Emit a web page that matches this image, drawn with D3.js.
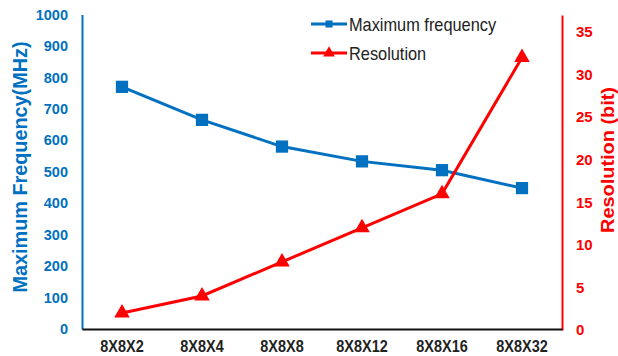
<!DOCTYPE html>
<html>
<head>
<meta charset="utf-8">
<script src="https://cdn.jsdelivr.net/npm/d3@7"></script>
<style>
  html, body { margin: 0; padding: 0; background: #fff; }
  svg { display: block; font-family: "Liberation Sans", Arial, sans-serif; }
</style>
</head>
<body>
<svg id="chart" width="618" height="356"></svg>
<script>
// ── Data ────────────────────────────────────────────────────────────────────
const categories = ['8X8X2', '8X8X4', '8X8X8', '8X8X12', '8X8X16', '8X8X32'];
const maxFrequency = [770, 665, 580, 533, 505, 448];   // MHz, left axis
const resolution = [2, 4, 8, 12, 16, 32];             // bit, right axis
const leftTicks = [0, 100, 200, 300, 400, 500, 600, 700, 800, 900, 1000];
const rightTicks = [0, 5, 10, 15, 20, 25, 30, 35];

const BLUE = '#0070C0', RED = '#FF0000';
const plot = { left: 82, right: 562, top: 15, bottom: 329 };

const svg = d3.select('#chart');

// Het origineel is horizontaal wat samengedrukt: tekst iets smaller maken.
function squeeze(selection, factor) {
  selection.each(function () {
    const w = this.getComputedTextLength();
    d3.select(this).attr('textLength', w * factor).attr('lengthAdjust', 'spacingAndGlyphs');
  });
}

const x = d3.scaleBand().domain(categories).range([plot.left, plot.right]);
const yLeft = d3.scaleLinear().domain([0, 1000]).range([plot.bottom, plot.top - 0.5]);
const yRight = d3.scaleLinear().domain([0, 37]).range([plot.bottom + 1, plot.top]);
const cx = c => x(c) + x.bandwidth() / 2;

// Assen
const left = svg.append('g').attr('transform', `translate(${plot.left},0)`)
  .call(d3.axisLeft(yLeft).tickValues(leftTicks).tickFormat(d3.format('d')).tickSize(0).tickPadding(14));
left.select('.domain').attr('stroke', BLUE).attr('stroke-width', 2);
left.selectAll('text').attr('fill', BLUE).attr('font-size', 14.5).attr('font-weight', 'bold');

const right = svg.append('g').attr('transform', `translate(${plot.right},0)`)
  .call(d3.axisRight(yRight).tickValues(rightTicks).tickSize(0).tickPadding(14));
right.select('.domain').attr('stroke', RED).attr('stroke-width', 2);
right.selectAll('text').attr('fill', RED).attr('font-size', 15).attr('font-weight', 'bold');

const bottom = svg.append('g').attr('transform', `translate(0,${plot.bottom})`)
  .call(d3.axisBottom(x).tickSize(0).tickPadding(11));
bottom.select('.domain').attr('stroke', '#111').attr('stroke-width', 2);
bottom.selectAll('text').attr('fill', '#222').attr('font-size', 17).attr('font-weight', 'bold')
  .call(squeeze, 0.85);

// Astitels
svg.append('text')
  .attr('transform', 'translate(27,167) rotate(-90)')
  .attr('text-anchor', 'middle').attr('fill', BLUE)
  .attr('font-size', 20).attr('font-weight', 'bold')
  .attr('textLength', 251).attr('lengthAdjust', 'spacingAndGlyphs')
  .text('Maximum Frequency(MHz)');
svg.append('text')
  .attr('transform', 'translate(614,160) rotate(-90)')
  .attr('text-anchor', 'middle').attr('fill', RED)
  .attr('font-size', 18).attr('font-weight', 'bold')
  .attr('textLength', 146).attr('lengthAdjust', 'spacingAndGlyphs')
  .text('Resolution (bit)');

// Lijnen
const freqLine = d3.line().x((d, i) => cx(categories[i])).y(d => yLeft(d));
const resLine = d3.line().x((d, i) => cx(categories[i])).y(d => yRight(d));

svg.append('path').datum(maxFrequency).attr('d', freqLine)
  .attr('fill', 'none').attr('stroke', BLUE).attr('stroke-width', 3);
svg.append('path').datum(resolution).attr('d', resLine)
  .attr('fill', 'none').attr('stroke', RED).attr('stroke-width', 3);

const square = d3.symbol().type(d3.symbolSquare).size(150);
const triangle = d3.symbol().type(d3.symbolTriangle).size(105);

svg.selectAll('path.freq-marker').data(maxFrequency).join('path')
  .attr('class', 'freq-marker').attr('d', square).attr('fill', BLUE)
  .attr('transform', (d, i) => `translate(${cx(categories[i])},${yLeft(d)})`);
svg.selectAll('path.res-marker').data(resolution).join('path')
  .attr('class', 'res-marker').attr('d', triangle).attr('fill', RED)
  .attr('transform', (d, i) => `translate(${cx(categories[i])},${yRight(d)})`);

// Legenda
const legend = [
  { label: 'Maximum frequency', color: BLUE, symbol: d3.symbol().type(d3.symbolSquare).size(50) },
  { label: 'Resolution', color: RED, symbol: d3.symbol().type(d3.symbolTriangle).size(60) },
];
const legendItems = svg.selectAll('g.legend').data(legend).join('g')
  .attr('class', 'legend')
  .attr('transform', (d, i) => `translate(311,${24 + i * 29})`);
legendItems.append('line').attr('x1', 0).attr('x2', 36)
  .attr('stroke', d => d.color).attr('stroke-width', 3);
legendItems.append('path').attr('d', d => d.symbol()).attr('fill', d => d.color)
  .attr('transform', 'translate(18,0)');
legendItems.append('text').attr('x', 38).attr('dy', '0.35em')
  .attr('font-size', 19).attr('fill', '#222').text(d => d.label)
  .call(squeeze, 0.86);
</script>
</body>
</html>
